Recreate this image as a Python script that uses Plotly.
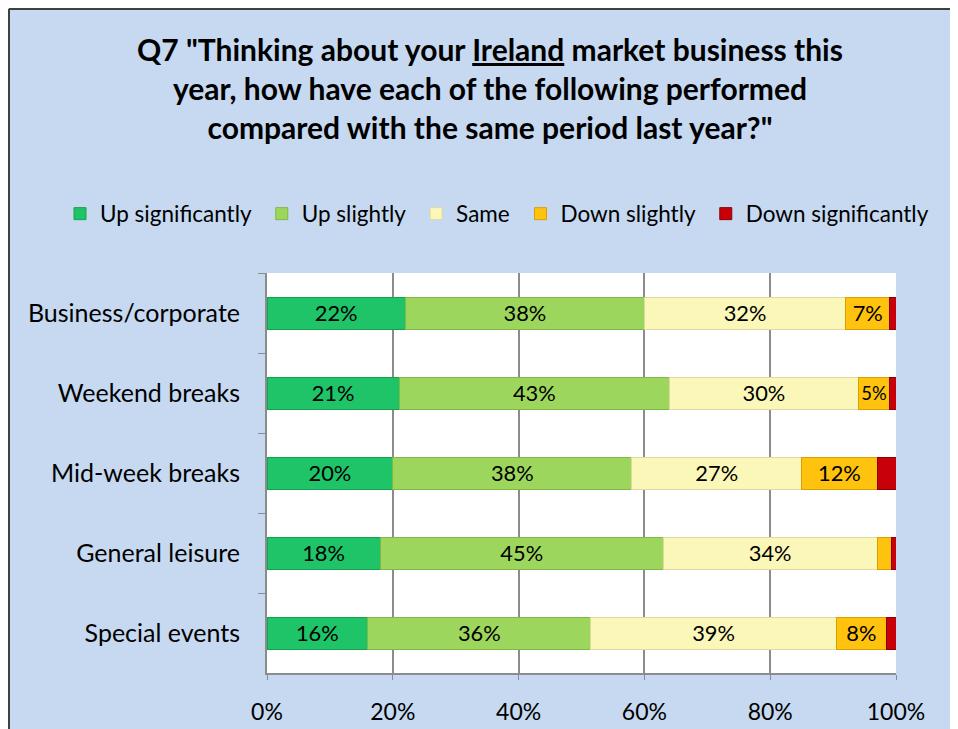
import plotly.graph_objects as go

categories = ["Business/corporate", "Weekend breaks", "Mid-week breaks", "General leisure", "Special events"]
series_names = ["Up significantly", "Up slightly", "Same", "Down slightly", "Down significantly"]
up_sig = [22, 21, 20, 18, 16]
up_slight = [38, 43, 38, 45, 35.5]
same = [32, 30, 27, 34, 39]
down_slight = [7, 5, 12, 2.3, 8]
down_sig = [1, 1, 3, 0.7, 1.5]
x_ticks = [0, 20, 40, 60, 80, 100]
x_ticklabels = ["0%", "20%", "40%", "60%", "80%", "100%"]

series_values = [up_sig, up_slight, same, down_slight, down_sig]
colors = ["#1FC468", "#9DD65C", "#FAF7B8", "#FFC20E", "#C8000A"]
edge = ["#16A152", "#80B844", "#DDD9A0", "#D9A000", "#8E0006"]

FONT = "Lato"
W, H = 950, 721
L, R, T, B = 259, 62, 265, 56
PW, PH = W - L - R, H - T - B

fig = go.Figure()
for name, vals, c, e in zip(series_names, series_values, colors, edge):
    fig.add_trace(go.Bar(
        y=categories, x=vals, name=name + "\u00a0", orientation="h",
        marker=dict(color=c, line=dict(color=e, width=1)),
        text=[f"{round(v)}%" if v >= 4 else "" for v in vals],
        textposition="inside", insidetextanchor="middle", textangle=0,
        textfont=dict(family=FONT, size=23.5, color="black"),
        hoverinfo="x+y",
    ))

fig.update_layout(
    barmode="stack", bargap=0.6,
    width=W, height=H,
    margin=dict(l=L, r=R, t=T, b=B, autoexpand=False),
    paper_bgcolor="#C6D9F0", plot_bgcolor="white",
    font=dict(family=FONT, size=21, color="black"),
    title=dict(
        text='Q7 "Thinking about your <u>Ireland</u> market business this<br>year, how have each of the following performed<br>compared with the same period last year?"',
        font=dict(family=FONT, size=30, color="black", weight="bold"),
        xref="container", x=482 / W, xanchor="center",
        yref="container", y=1 - 53 / H, yanchor="middle",
    ),
    legend=dict(
        orientation="h", x=(52 - L) / PW, xanchor="left",
        y=(PH + T - 206) / PH, yanchor="middle",
        font=dict(family=FONT, size=22.5), bgcolor="rgba(0,0,0,0)",
        traceorder="normal", itemwidth=30,
    ),
    showlegend=True,
    shapes=[
        dict(type="line", xref="paper", yref="paper",
             x0=(1 - L) / PW, x1=(1 - L) / PW, y0=-B / PH - 0.05, y1=(T + PH - 1) / PH,
             line=dict(color="#404040", width=2)),
        dict(type="line", xref="paper", yref="paper",
             x0=(1 - L) / PW, x1=(W + 20 - L) / PW, y0=(T + PH - 1) / PH, y1=(T + PH - 1) / PH,
             line=dict(color="#404040", width=2)),
    ],
)
fig.update_xaxes(
    range=[0, 100], tickvals=x_ticks, ticktext=x_ticklabels, automargin=False,
    showgrid=True, gridcolor="#8C8C8C", gridwidth=1.5,
    showline=True, linecolor="#8C8C8C", linewidth=2,
    ticks="outside", ticklen=5, tickcolor="#8C8C8C", ticklabelstandoff=12,
    tickfont=dict(family=FONT, size=23), zeroline=False, fixedrange=True,
)
fig.update_yaxes(
    categoryorder="array", categoryarray=categories, autorange="reversed", automargin=False,
    showline=True, linecolor="#8C8C8C", linewidth=2,
    ticks="outside", ticklen=7, tickcolor="#8C8C8C", tickson="boundaries",
    ticklabelstandoff=20,
    tickfont=dict(family=FONT, size=25), showgrid=False, fixedrange=True,
)
fig.write_html("out.html")
